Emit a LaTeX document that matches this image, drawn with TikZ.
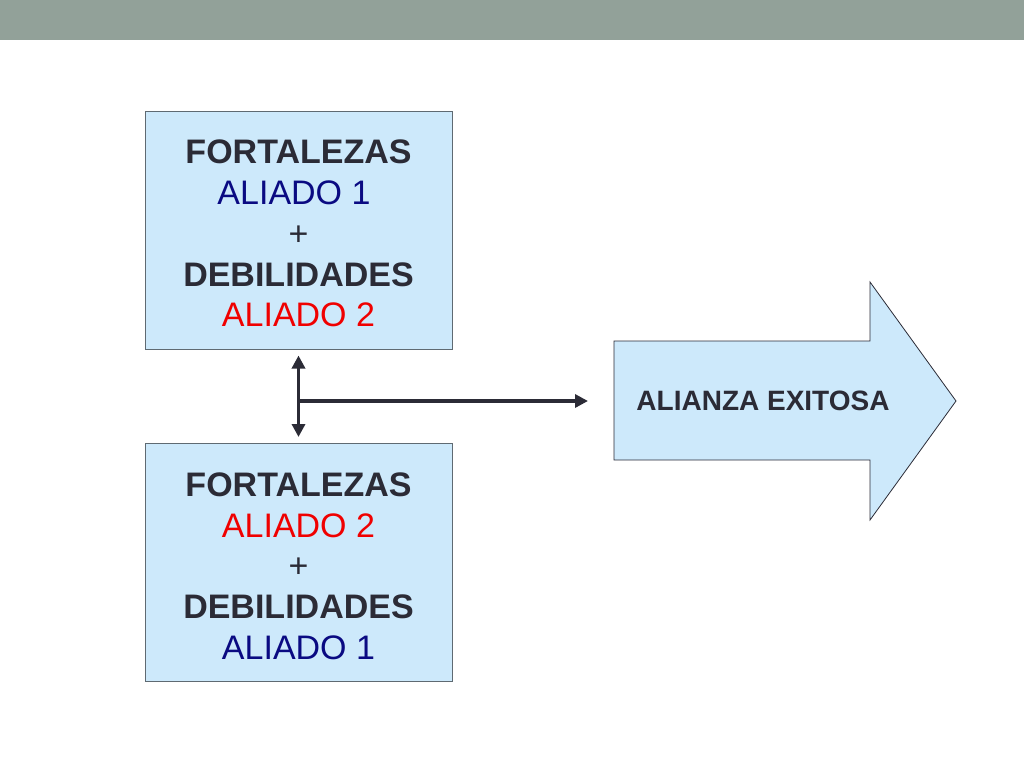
\documentclass[tikz,border=0pt]{standalone}
\usepackage{fontspec}
\setmainfont{Liberation Sans}
\usetikzlibrary{arrows.meta}
\definecolor{barra}{HTML}{92A199}
\definecolor{celeste}{HTML}{CDE9FB}
\definecolor{borde}{HTML}{5F6A72}
\definecolor{tinta}{HTML}{2B2B36}
\definecolor{aliado1}{HTML}{0A0A82}
\definecolor{aliado2}{HTML}{F00000}
\newcommand{\alto}{\rule{0pt}{31pt}}
\tikzset{
  caja/.style={draw=borde, line width=1pt, fill=celeste, minimum width=307pt,
    minimum height=238pt, align=center, inner sep=0pt,
    font=\fontsize{34}{40.7}\selectfont},
  conector/.style={draw=tinta, line width=3.5pt, {Triangle[length=13pt,width=13pt]}-{Triangle[length=13pt,width=13pt]}}
}
\begin{document}
\begin{tikzpicture}[x=1pt,y=-1pt]
            \useasboundingbox (0,0) rectangle (1024,768);
            % Barra superior
            \fill[barra] (0,0) rectangle (1024,40);

            % Cajas de fortalezas y debilidades
            \node[caja] (caja1) at (298.5,230) {\alto\textbf{\color{tinta}FORTALEZAS}\\ \color{aliado1}ALIADO 1\hspace*{9pt}\\ \color{tinta}+\\ \textbf{\color{tinta}DEBILIDADES}\\ \color{aliado2}ALIADO 2};
            \node[caja] (caja2) at (298.5,562.5) {\alto\textbf{\color{tinta}FORTALEZAS}\\ \color{aliado2}ALIADO 2\\ \color{tinta}+\\ \textbf{\color{tinta}DEBILIDADES}\\ \color{aliado1}ALIADO 1};

            % Flecha grande
            \filldraw[fill=celeste, draw=tinta, line width=0.8pt] (614,341) -- (870,341) -- (870,282) -- (956,401)
              -- (870,520) -- (870,460) -- (614,460) -- cycle;
            \coordinate (cola) at (614,401);
            \node[font=\fontsize{28}{32}\selectfont\bfseries, text=tinta] (alianza) at (763,401) {ALIANZA EXITOSA};

            % Conectores
            \coordinate (union) at (298.5,401);
            \draw[conector, shorten <=6pt, shorten >=6pt] (caja1.south) -- (caja2.north);
            \draw[draw=tinta, line width=3.5pt, -{Triangle[length=13pt,width=13pt]}, shorten >=26pt] (union) -- (cola);
\end{tikzpicture}
\end{document}
